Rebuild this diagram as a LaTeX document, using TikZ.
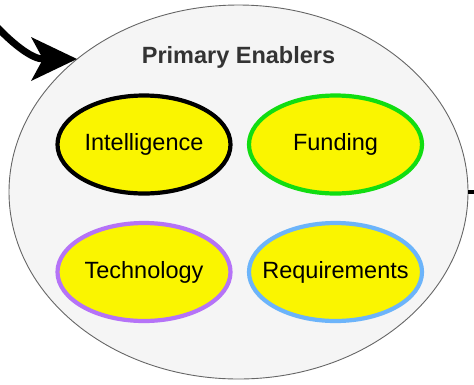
\documentclass[tikz,border=0pt]{standalone}
\usepackage{fontspec}
\setmainfont{Liberation Sans}
\usetikzlibrary{arrows.meta,shapes.geometric}
\definecolor{bigfill}{HTML}{F5F5F5}
\definecolor{bigdraw}{HTML}{666666}
\definecolor{yel}{HTML}{FAF500}
\definecolor{grn}{HTML}{11DD11}
\definecolor{purp}{HTML}{B573F7}
\definecolor{blu}{HTML}{6CB4FA}
\definecolor{ttl}{HTML}{333333}
\begin{document}
\begin{tikzpicture}[x=1pt,y=-1pt,
  inner/.style={ellipse,fill=yel,line width=4.2pt,minimum width=173pt,minimum height=98pt,inner sep=-40pt,
    font=\fontsize{23.5}{27}\selectfont},
  big/.style={ellipse,fill=bigfill,draw=bigdraw,line width=0.9pt,minimum width=459pt,minimum height=374pt,inner sep=0pt},
  conn/.style={line width=7pt}]
\useasboundingbox (0,0) rectangle (474,384);
\node[big] (outer) at (238.5,192) {};
\node[font=\bfseries\fontsize{23.5}{27}\selectfont,text=ttl] (title) at (238.5,57) {Primary Enablers};
\node[inner,draw=black] (intel) at (144,144.5) {Intelligence};
\node[inner,draw=grn] (fund) at (335.5,144.5) {Funding};
\node[inner,draw=purp] (tech) at (144,272) {Technology};
\node[inner,draw=blu] (req) at (335.5,272) {Requirements};
\coordinate (src) at (-3,27);
\coordinate (tip) at (77,59);
\coordinate (dst) at (474,192);
\draw[conn,-{Stealth[length=46pt,width=44pt,inset=12pt,line width=0pt]}] (src) .. controls (15,46) and (33,59) .. (tip);
\draw[line width=4.5pt] (outer.east) -- (dst);
\end{tikzpicture}
\end{document}
